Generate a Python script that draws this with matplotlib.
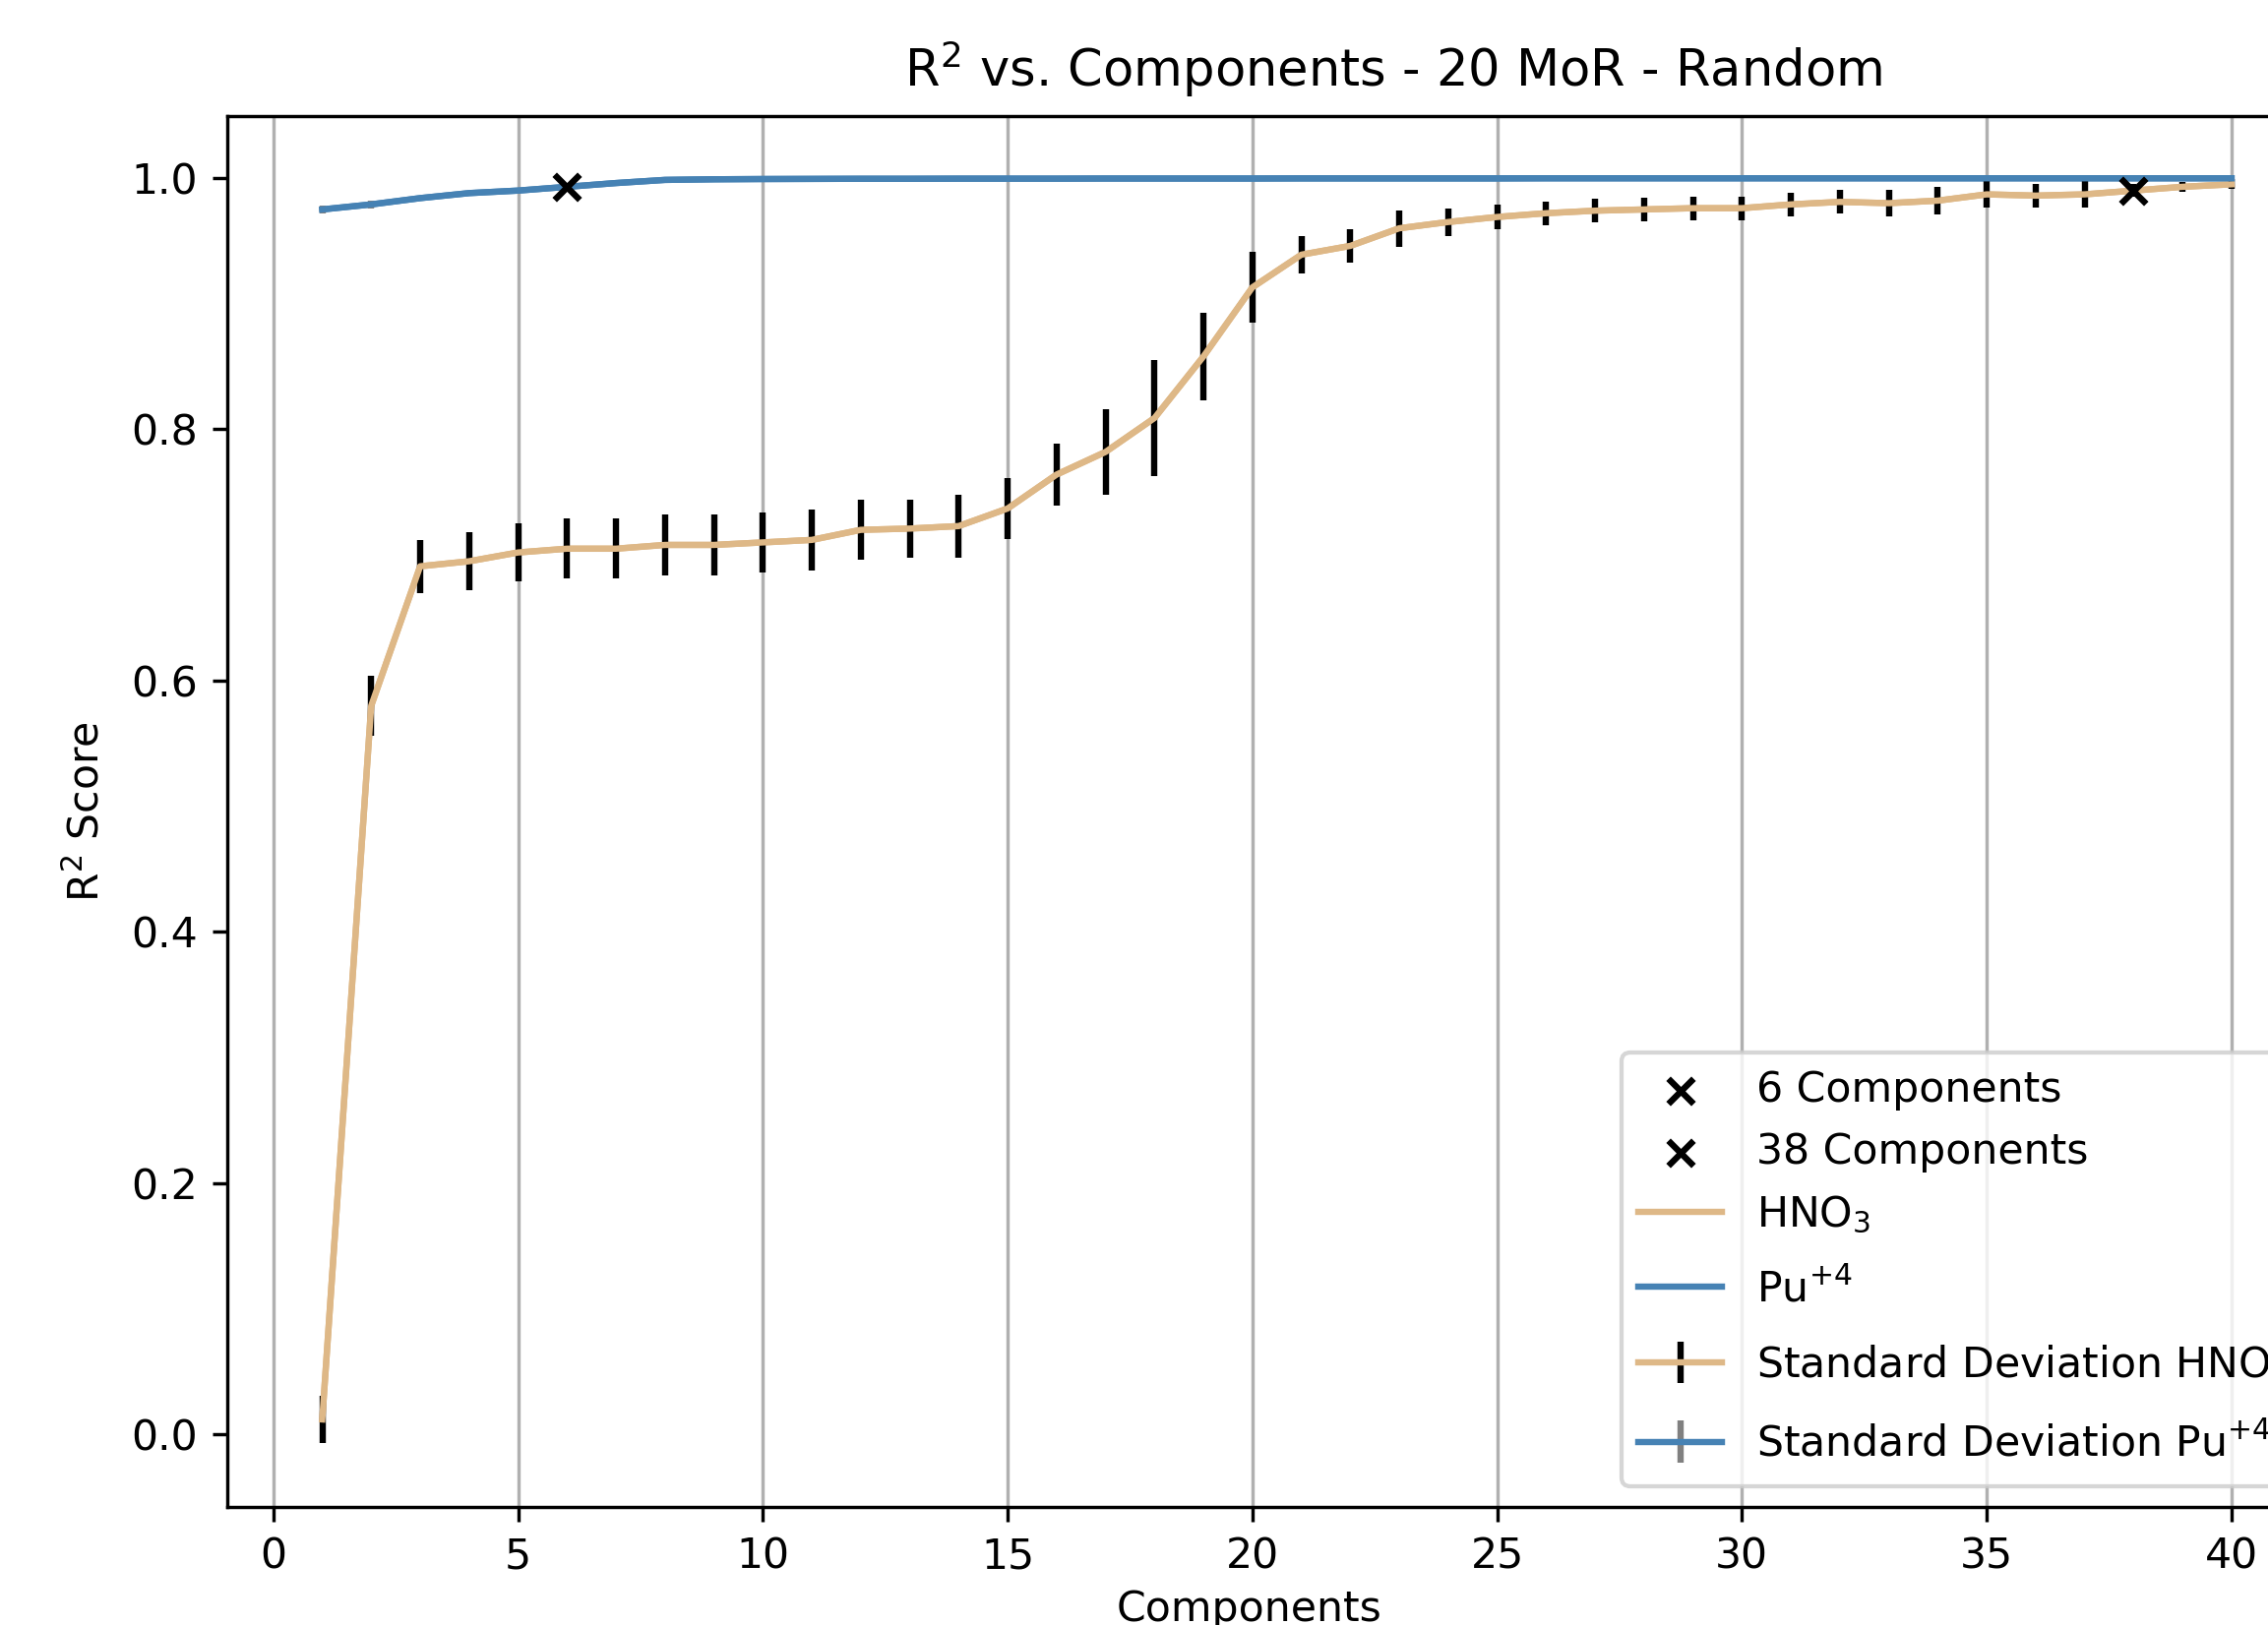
import numpy as np
import matplotlib.pyplot as plt

# Datos
components = list(range(1, 41))

hno3 = [0.012, 0.580, 0.691, 0.695, 0.702, 0.705, 0.705, 0.708, 0.708, 0.710,
        0.712, 0.720, 0.721, 0.723, 0.737, 0.764, 0.782, 0.809, 0.858, 0.913,
        0.939, 0.946, 0.960, 0.965, 0.969, 0.972, 0.974, 0.975, 0.976, 0.976,
        0.979, 0.981, 0.980, 0.982, 0.987, 0.986, 0.987, 0.990, 0.993, 0.995]
hno3_std = [0.019, 0.024, 0.021, 0.023, 0.023, 0.024, 0.024, 0.024, 0.024, 0.024,
            0.024, 0.024, 0.023, 0.025, 0.024, 0.025, 0.034, 0.046, 0.035, 0.028,
            0.015, 0.013, 0.0145, 0.011, 0.0098, 0.0094, 0.0094, 0.0094, 0.0094, 0.0094,
            0.0094, 0.0094, 0.0106, 0.0106, 0.0108, 0.0094, 0.0108, 0.005, 0.004, 0.004]

pu = [0.975, 0.979, 0.984, 0.988, 0.990, 0.993, 0.996, 0.9985, 0.999, 0.9992,
      0.9993, 0.9994, 0.9994, 0.9995, 0.9995, 0.9995, 0.9996, 0.9996, 0.9996, 0.9996,
      0.9997, 0.9997, 0.9997, 0.9997, 0.9997, 0.9998, 0.9998, 0.9998, 0.9998, 0.9998,
      0.9998, 0.9998, 0.9998, 0.9998, 0.9998, 0.9998, 0.9998, 0.9998, 0.9998, 0.9998]
pu_std = [0.003, 0.003, 0.002, 0.002, 0.0015, 0.0012, 0.001, 0.0008, 0.0006, 0.0005,
          0.0004, 0.0004, 0.0004, 0.0003, 0.0003, 0.0003, 0.0003, 0.0003, 0.0003, 0.0003,
          0.0002, 0.0002, 0.0002, 0.0002, 0.0002, 0.0002, 0.0002, 0.0002, 0.0002, 0.0002,
          0.0002, 0.0002, 0.0002, 0.0002, 0.0002, 0.0002, 0.0002, 0.0002, 0.0002, 0.0002]

best_pu = 6
best_hno3 = 38

# Figura (recortada a la derecha como la original)
dpi = 307
fig = plt.figure(figsize=(2305 / dpi, 1652 / dpi), dpi=dpi)
ax = fig.add_axes([0.1, 0.0726, 0.926, 0.8562])

ax.scatter(best_pu, pu[best_pu - 1], marker='x', color='black', label=f'{best_pu} Components', zorder=5)
ax.scatter(best_hno3, hno3[best_hno3 - 1], marker='x', color='black', label=f'{best_hno3} Components', zorder=5)
ax.plot(components, hno3, color='burlywood', label='HNO$_3$')
ax.plot(components, pu, color='steelblue', label='Pu$^{+4}$')
ax.errorbar(components, hno3, yerr=hno3_std, color='burlywood', ecolor='black',
            label='Standard Deviation HNO$_3$')
ax.errorbar(components, pu, yerr=pu_std, color='steelblue', ecolor='gray',
            label='Standard Deviation Pu$^{+4}$')

ax.set_xlim(-0.95, 41.95)
ax.set_ylim(-0.0577, 1.0496)
ax.set_title('R$^2$ vs. Components - 20 MoR - Random', x=0.5555, pad=7)
ax.set_xlabel('Components', x=0.487, labelpad=2.5)
ax.set_ylabel('R$^2$ Score', labelpad=5.5)
ax.grid(True, axis='x')
leg = ax.legend(loc='lower right')

# filas con sub/superindices mas altas: (px sobre la base, px bajo la base)
row_ext = [None, None, (30, 13.1), (42, 15), (40.1, 15), (44.6, 13)]
pt = dpi / 72
rows = leg._legend_handle_box.get_children()[0].get_children()
for row, ext in zip(rows, row_ext):
    if ext is None:
        continue
    box = row.get_children()[0]
    box.height = (ext[0] + ext[1]) / pt
    box.ydescent = ext[1] / pt

fig.savefig('out.png', dpi=dpi)
